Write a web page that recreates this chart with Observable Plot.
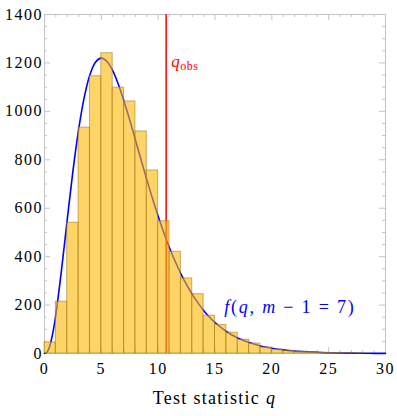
<!DOCTYPE html>
<html><head><meta charset="utf-8">
<script src="https://cdn.jsdelivr.net/npm/d3@7"></script>
<script src="https://cdn.jsdelivr.net/npm/@observablehq/plot@0.6"></script>
<style>body{margin:0;background:#fff;} svg{display:block;} svg text{font-family:'Liberation Serif',serif;}</style>
</head><body><div id="chart"></div>
<script>
// Histogram bins (width 1) and counts
const binStarts = [0,1,2,3,4,5,6,7,8,9,10,11,12,13,14,15,16,17,18,19,20,21,22,23,24,25,26,27,28,29];
const binCounts = [46,214,540,933,1145,1240,1098,1041,917,756,546,420,310,245,156,118,86,57,41,25,16,11,7,5,3,2,1,1,0,0];

// Fitted curve f(q, m-1 = 7)
const curveQ = [0,0.25,0.5,0.75,1,1.5,2,2.5,3,3.5,4,4.5,5,5.5,6,6.5,7,7.5,8,8.5,9,9.5,10,10.5,11,11.5,12,12.5,13,13.5,14,14.5,15,16,17,18,19,20,21,22,23,24,25,26,27,28,29,30];
const curveF = [0,7,37,89,161,346,553,753,925,1059,1152,1204,1220,1206,1168,1111,1041,964,882,799,718,640,567,499,436,380,329,284,244,209,178,151,128,91,64,45,31,22,15,10,7,5,3,2,1.4,0.9,0.6,0.4];

const qObs = 10.7;
const xTicks = [0,5,10,15,20,25,30];
const xMinor = [1,2,3,4,6,7,8,9,11,12,13,14,16,17,18,19,21,22,23,24,26,27,28,29];
const yTicks = [0,200,400,600,800,1000,1200,1400];
const yMinor = [50,100,150,250,300,350,450,500,550,650,700,750,850,900,950,1050,1100,1150,1250,1300,1350];

const W = 397, H = 416, mL = 44, mR = 12, mT = 14, mB = 63;
const iw = W - mL - mR, ih = H - mT - mB;
const tickColor = "#c4c4c4";
const serif = "'Liberation Serif', serif";

const bars = binStarts.map((s, i) => ({x0: s, x1: s + 1, n: binCounts[i]}));
const curve = curveQ.map((q, i) => ({q, f: curveF[i]}));

const plot = Plot.plot({
  width: W, height: H,
  marginLeft: mL, marginRight: mR, marginTop: mT, marginBottom: mB,
  x: {domain: [0, 30]},
  y: {domain: [0, 1400]},
  style: {fontFamily: serif, fontSize: "16px", background: "#fff", color: "#000"},
  marks: [
    Plot.frame({stroke: tickColor}),
    // ticks on all four sides, pointing inward
    Plot.tickX(xMinor, {x: d => d, insetTop: ih - 3, stroke: tickColor}),
    Plot.tickX(xMinor, {x: d => d, insetBottom: ih - 3, stroke: tickColor}),
    Plot.tickX(xTicks, {x: d => d, insetTop: ih - 6, stroke: tickColor}),
    Plot.tickX(xTicks, {x: d => d, insetBottom: ih - 6, stroke: tickColor}),
    Plot.tickY(yMinor, {y: d => d, insetRight: iw - 3, stroke: tickColor}),
    Plot.tickY(yMinor, {y: d => d, insetLeft: iw - 3, stroke: tickColor}),
    Plot.tickY(yTicks, {y: d => d, insetRight: iw - 6, stroke: tickColor}),
    Plot.tickY(yTicks, {y: d => d, insetLeft: iw - 6, stroke: tickColor}),
    Plot.axisX({ticks: xTicks, tickSize: 0, tickPadding: 9, label: null, fontSize: 16, fontFamily: serif, fontVariant: "normal", tickFormat: d3.format("d")}),
    Plot.axisY({ticks: yTicks, tickSize: 0, tickPadding: 1.5, label: null, fontSize: 16, fontFamily: serif, fontVariant: "normal", tickFormat: d3.format("d")}),
    Plot.line(curve, {x: "q", y: "f", stroke: "blue", strokeWidth: 1.6, curve: "catmull-rom"}),
    Plot.ruleX([qObs], {stroke: "red", strokeWidth: 1.5}),
    Plot.rect(bars, {x1: "x0", x2: "x1", y1: 0, y2: "n", fill: "#ffb800", fillOpacity: 0.6, stroke: "#9a7418", strokeOpacity: 0.55, strokeWidth: 1})
  ]
});
document.getElementById("chart").appendChild(plot);
d3.select(plot).selectAll("[aria-label$='axis tick label'] text")
  .attr("letter-spacing", "1.5px").style("font-family", serif);

const sx = plot.scale("x"), sy = plot.scale("y");
const svg = d3.select(plot);

// q_obs label
const t1 = svg.append("text").attr("x", sx.apply(11.2)).attr("y", sy.apply(1182))
  .attr("text-anchor", "start").attr("font-family", serif)
  .attr("fill", "red").attr("font-size", 17).attr("letter-spacing", "0.5px");
t1.append("tspan").attr("font-style", "italic").text("q");
t1.append("tspan").attr("font-size", 12).attr("dy", 3).text("obs");

// f(q, m-1 = 7) label
const t2 = svg.append("text").attr("x", sx.apply(15.85)).attr("y", sy.apply(165))
  .attr("text-anchor", "start").attr("font-family", serif)
  .attr("fill", "blue").attr("font-size", 18).attr("letter-spacing", "1.8px");
t2.append("tspan").attr("font-style", "italic").text("f");
t2.append("tspan").text("(");
t2.append("tspan").attr("font-style", "italic").text("q");
t2.append("tspan").text(", ");
t2.append("tspan").attr("font-style", "italic").text("m");
t2.append("tspan").text(" \u2212 1 = 7)");

// x-axis title
const t3 = svg.append("text").attr("x", (sx.apply(0) + sx.apply(30)) / 2).attr("y", 404)
  .attr("text-anchor", "middle").attr("font-family", serif)
  .attr("fill", "#000").attr("font-size", 18).attr("letter-spacing", "1.3px");
t3.append("tspan").text("Test statistic ");
t3.append("tspan").attr("font-style", "italic").text("q");
</script>
</body></html>
